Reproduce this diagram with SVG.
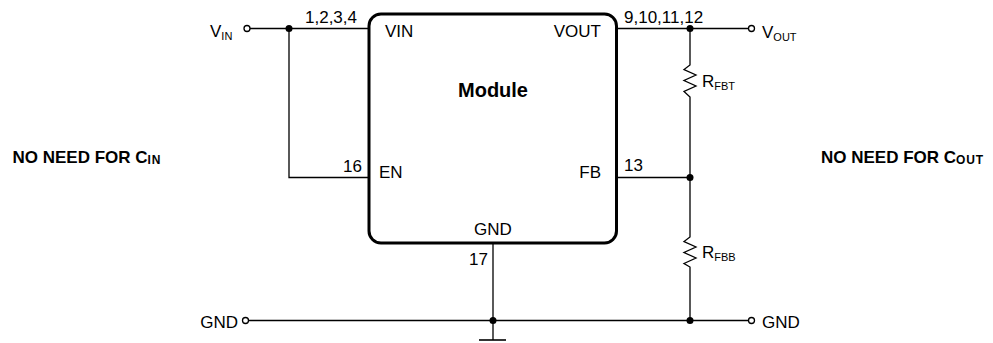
<svg xmlns="http://www.w3.org/2000/svg" width="993" height="343" viewBox="0 0 993 343">
<style>
text{font-family:"Liberation Sans",Arial,sans-serif;font-size:17px;fill:#000}
.b{font-weight:bold}
.s{font-size:11px}
.ns{font-size:12px;letter-spacing:0.8px}
.w{fill:none;stroke:#000;stroke-width:1.3}
.dot{fill:#000}
.term{fill:#fff;stroke:#000;stroke-width:1.3}
</style>
<rect width="993" height="343" fill="#fff"/>
<g id="connectors">
<path class="w" d="M250 28.5H369"/>
<path class="w" d="M289 28.5V177.5H369"/>
<path class="w" d="M616.5 28.5H748.5"/>
<path class="w" d="M690 28.5V65L684 69.5L696 75L684 80.5L696 86L684 91.5L690 97V237L684 241.5L696 247L684 252.5L696 258L684 263.5L690 267V320.5"/>
<path class="w" d="M616.5 177.5H690"/>
<path class="w" d="M493 243V340"/>
<path class="w" d="M248.5 320.5H748.5"/>
<path d="M479 340H506" fill="none" stroke="#000" stroke-width="1.6"/>
<circle class="dot" cx="289" cy="28.5" r="3.5"/>
<circle class="dot" cx="690" cy="28.5" r="3.5"/>
<circle class="dot" cx="690" cy="177.5" r="3.5"/>
<circle class="dot" cx="690" cy="320.5" r="3.5"/>
<circle class="dot" cx="493" cy="320.5" r="3.5"/>
</g>
<g id="module">
<rect x="369" y="14" width="247.5" height="229" rx="12" ry="12" fill="#fff" stroke="#000" stroke-width="3"/>
<text x="493" y="97" text-anchor="middle" class="b" style="font-size:20px">Module</text>
<text x="385" y="37">VIN</text>
<text x="601" y="37" text-anchor="end">VOUT</text>
<text x="379" y="178">EN</text>
<text x="601" y="178" text-anchor="end">FB</text>
<text x="493" y="235" text-anchor="middle">GND</text>
<text x="357" y="23" text-anchor="end">1,2,3,4</text>
<text x="624" y="23">9,10,11,12</text>
<text x="362" y="172" text-anchor="end">16</text>
<text x="624" y="171">13</text>
<text x="488" y="265" text-anchor="end">17</text>
</g>
<g id="vin">
<circle class="term" cx="247" cy="28.5" r="3"/>
<text x="210" y="37">V<tspan class="s" dy="2.5">IN</tspan></text>
</g>
<g id="vout">
<circle class="term" cx="751.5" cy="28.5" r="3"/>
<text x="762" y="38">V<tspan class="s" dy="2.5">OUT</tspan></text>
</g>
<g id="rfbt">
<text x="702" y="87">R<tspan class="s" dy="2.5">FBT</tspan></text>
</g>
<g id="rfbb">
<text x="702" y="258">R<tspan class="s" dy="2.5">FBB</tspan></text>
</g>
<g id="gnd-left">
<circle class="term" cx="245.5" cy="320.5" r="3"/>
<text x="238" y="328" text-anchor="end">GND</text>
</g>
<g id="gnd-right">
<circle class="term" cx="751.5" cy="320.5" r="3"/>
<text x="762" y="328">GND</text>
</g>
<g id="note-cin">
<text x="12.5" y="163" class="b">NO NEED FOR C<tspan class="ns" dy="1">IN</tspan></text>
</g>
<g id="note-cout">
<text x="821" y="163" class="b">NO NEED FOR C<tspan class="ns" dy="1">OUT</tspan></text>
</g>
</svg>
